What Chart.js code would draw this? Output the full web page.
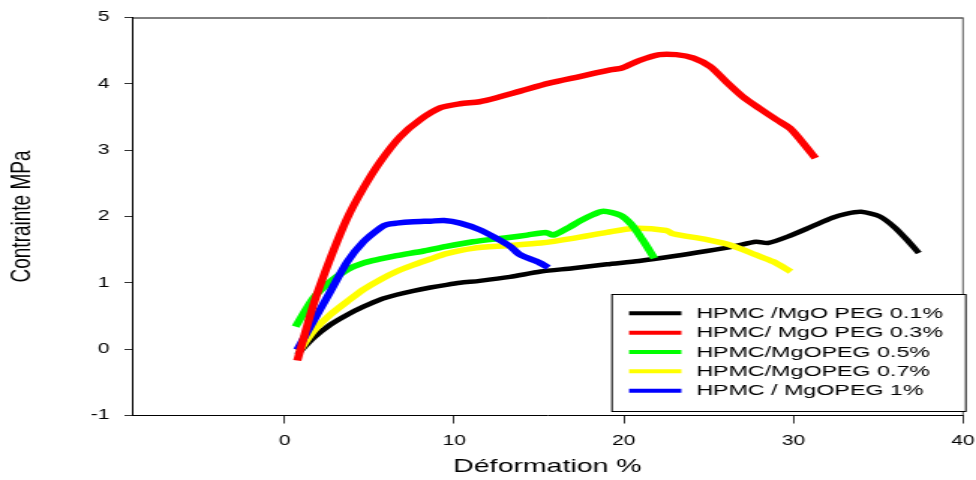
<!DOCTYPE html>
<html lang="fr">
<head>
  <meta charset="UTF-8">
  <title>Contrainte / Déformation</title>
  <script src="https://cdn.jsdelivr.net/npm/chart.js"></script>
  <style>
    html, body { margin: 0; padding: 0; background: #fff; overflow: hidden; }
    /* the source picture is stretched sideways, so the chart is too */
    .wrap { width: 651px; height: 480px; transform: scaleX(1.49923); transform-origin: 0 0; }
    #chart { display: block; }
  </style>
</head>
<body>
  <div class="wrap"><canvas id="chart" width="651" height="480"></canvas></div>

  <script>
    // series labels
    const labels = [
      'HPMC /MgO PEG 0.1%',
      'HPMC/ MgO PEG 0.3%',
      'HPMC/MgOPEG 0.5%',
      'HPMC/MgOPEG 0.7%',
      'HPMC / MgOPEG 1%'
    ];
    const colors = ['#000000', '#ff0000', '#00ff00', '#ffff00', '#0000ff'];

    // strain (%) and stress (MPa)
    const peg01X = [0.75, 1.7, 2.7, 3.7, 4.65, 5.65, 6.6, 7.6, 8.6, 9.55, 10.35, 11.5, 13.3, 15.1, 17, 19, 20.9, 22.9, 24.9, 26.5, 27.8, 28.5, 29.8, 31.1, 32.3, 33.1, 34.0, 35.1, 36.0, 36.8, 37.4];
    const peg01Y = [-0.08, 0.17, 0.37, 0.52, 0.64, 0.75, 0.82, 0.88, 0.93, 0.97, 1.0, 1.03, 1.09, 1.17, 1.22, 1.28, 1.33, 1.40, 1.48, 1.55, 1.62, 1.60, 1.71, 1.85, 1.98, 2.04, 2.07, 2.00, 1.83, 1.62, 1.45];

    const peg03X = [0.75, 1.7, 2.7, 3.7, 4.65, 5.65, 6.8, 8, 9.2, 10.35, 11.5, 12.5, 13.9, 15.6, 17.4, 19.2, 19.9, 20.9, 22.1, 23.1, 24.1, 25.1, 26, 27, 28, 29, 29.8, 30.5, 31.3];
    const peg03Y = [-0.17, 0.67, 1.37, 1.98, 2.43, 2.83, 3.2, 3.46, 3.64, 3.70, 3.73, 3.79, 3.89, 4.01, 4.11, 4.21, 4.24, 4.35, 4.44, 4.44, 4.39, 4.26, 4.04, 3.81, 3.63, 3.46, 3.33, 3.13, 2.88];

    const peg05X = [0.65, 1.7, 2.7, 3.7, 4.65, 5.65, 6.6, 8.2, 9.55, 11.1, 13.1, 14.3, 15.4, 15.85, 16.8, 17.4, 18.2, 18.8, 19.8, 20.45, 21.1, 21.8];
    const peg05Y = [0.34, 0.77, 1.02, 1.20, 1.30, 1.36, 1.41, 1.48, 1.55, 1.62, 1.68, 1.72, 1.76, 1.72, 1.84, 1.93, 2.03, 2.08, 2.02, 1.88, 1.65, 1.37];

    const peg07X = [0.85, 1.7, 2.7, 3.7, 4.65, 5.65, 6.6, 7.6, 8.6, 9.55, 11.1, 13.1, 15.1, 17, 19, 20.55, 22.5, 22.9, 24.9, 26.4, 27.8, 28.8, 29.85];
    const peg07Y = [-0.03, 0.27, 0.52, 0.72, 0.90, 1.05, 1.17, 1.27, 1.36, 1.44, 1.52, 1.56, 1.60, 1.67, 1.76, 1.82, 1.79, 1.74, 1.65, 1.56, 1.42, 1.32, 1.17];

    const peg1X = [0.75, 1.7, 2.7, 3.7, 4.65, 5.65, 6.04, 6.6, 7.6, 8.6, 9.4, 10.35, 11.5, 12.5, 13.3, 13.9, 14.9, 15.55];
    const peg1Y = [-0.01, 0.42, 0.87, 1.32, 1.62, 1.83, 1.88, 1.90, 1.92, 1.93, 1.94, 1.90, 1.80, 1.67, 1.55, 1.42, 1.32, 1.23];

    const xTicks = [0, 10, 20, 30, 40];
    const yTicks = [-1, 0, 1, 2, 3, 4, 5];

    const series = [[peg01X, peg01Y], [peg03X, peg03Y], [peg05X, peg05Y], [peg07X, peg07Y], [peg1X, peg1Y]];
    const drawOrder = [5, 1, 3, 4, 2];   // lower = drawn on top

    const datasets = series.map(([xs, ys], i) => ({
      label: labels[i],
      data: xs.map((x, k) => ({ x, y: ys[k] })),
      borderColor: colors[i],
      backgroundColor: colors[i],
      borderWidth: i === 0 ? 4.5 : 5.5,
      pointRadius: 0,
      showLine: true,
      tension: 0.25,
      order: drawOrder[i]
    }));

    const font = 'Liberation Sans, Arial, sans-serif';

    // top/right edges of the frame + boxed legend inside the plot
    const framePlugin = {
      id: 'frame',
      afterDraw(chart) {
        const { ctx, chartArea: a } = chart;
        ctx.save();
        ctx.strokeStyle = '#000';
        ctx.lineWidth = 1;
        ctx.beginPath();
        ctx.moveTo(a.left, a.top + 0.5);
        ctx.lineTo(a.right, a.top + 0.5);
        ctx.stroke();
        ctx.strokeStyle = '#555';
        ctx.beginPath();
        ctx.moveTo(a.right, a.top);
        ctx.lineTo(a.right, a.bottom);
        ctx.stroke();

        // legend box
        const bx = 408.2, by = 294, bw = 236, bh = 117;
        ctx.fillStyle = '#fff';
        ctx.fillRect(bx, by, bw, bh);
        ctx.strokeStyle = '#000';
        ctx.lineWidth = 1;
        ctx.strokeRect(bx, by + 0.5, bw, bh);
        ctx.font = '15.5px ' + font;
        ctx.textBaseline = 'middle';
        chart.data.datasets.forEach((ds, i) => {
          const y = 313.3 + i * 19.35;
          ctx.strokeStyle = ds.borderColor;
          ctx.lineWidth = 4;
          ctx.beginPath();
          ctx.moveTo(419.6, y);
          ctx.lineTo(454.5, y);
          ctx.stroke();
          ctx.fillStyle = '#000';
          ctx.fillText(ds.label, 464.4, y + 0.5);
        });
        ctx.restore();
      }
    };

    new Chart(document.getElementById('chart'), {
      type: 'scatter',
      data: { datasets },
      plugins: [framePlugin],
      options: {
        responsive: false,
        animation: false,
        devicePixelRatio: 1,
        layout: { autoPadding: false, padding: { top: 17.5, right: 8.7, left: 0, bottom: 0 } },
        plugins: { legend: { display: false }, tooltip: { enabled: false } },
        scales: {
          x: {
            type: 'linear',
            min: -9,
            max: 40,
            afterBuildTicks: s => { s.ticks = xTicks.map(v => ({ value: v })); },
            afterFit: s => { s.height = 64.5; s.paddingLeft = 0; s.paddingRight = 0; },
            ticks: { color: '#000', font: { family: font, size: 14 }, padding: 9, maxRotation: 0 },
            grid: { drawOnChartArea: false, drawTicks: true, tickLength: 8, color: '#333', tickWidth: 1 },
            border: { display: true, color: '#000', width: 1 },
            title: { display: true, text: 'Déformation %', color: '#000', font: { family: font, size: 19 }, padding: { top: 0, bottom: 2 } }
          },
          y: {
            min: -1,
            max: 5,
            afterBuildTicks: s => { s.ticks = yTicks.map(v => ({ value: v })); },
            afterFit: s => { s.width = 88; s.paddingTop = 0; s.paddingBottom = 0; },
            ticks: { color: '#000', font: { family: font, size: 14 }, padding: 10 },
            grid: { drawOnChartArea: false, drawTicks: true, tickLength: 5, color: '#333', tickWidth: 1 },
            border: { display: true, color: '#000', width: 1 },
            title: { display: true, text: 'Contrainte MPa', color: '#000', font: { family: font, size: 19 }, padding: { top: 3, bottom: 0 } }
          }
        }
      }
    });
  </script>
</body>
</html>
